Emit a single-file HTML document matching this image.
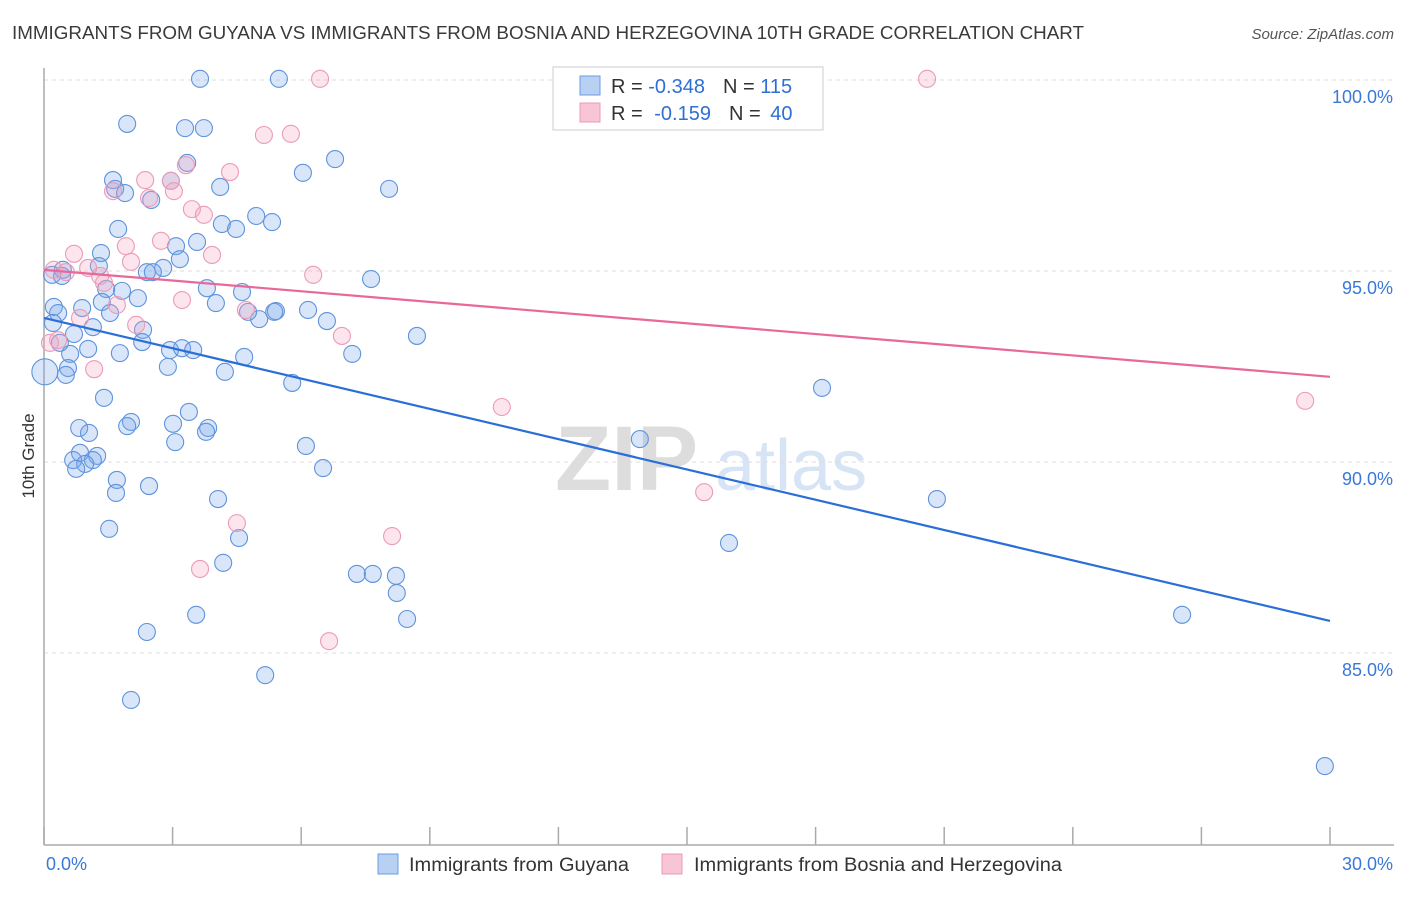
<!DOCTYPE html>
<html><head><meta charset="utf-8">
<style>
body{margin:0;background:#fff;font-family:"Liberation Sans",sans-serif;}
svg text{font-family:"Liberation Sans",sans-serif;}
</style></head>
<body>
<svg id="chart" width="1406" height="892" viewBox="0 0 1406 892" xmlns="http://www.w3.org/2000/svg">
<text x="12" y="39" font-size="18" fill="#3a3a3a" textLength="1072" lengthAdjust="spacingAndGlyphs">IMMIGRANTS FROM GUYANA VS IMMIGRANTS FROM BOSNIA AND HERZEGOVINA 10TH GRADE CORRELATION CHART</text>
<text x="1394" y="39" font-size="15" fill="#555" text-anchor="end" font-style="italic">Source: ZipAtlas.com</text>
<g><text x="555" y="490" font-size="92" fill="#ddd" font-family="Liberation Serif" font-weight="bold">ZIP</text><text x="715" y="490" font-size="72" fill="#d6e4f5">atlas</text></g>
<g id="grid"></g>
<g id="axes"></g>
<g id="points"></g>
<g id="lines"></g>
<text transform="translate(34,456) rotate(-90)" font-size="17" fill="#333" text-anchor="middle">10th Grade</text>
<g>
<rect x="553" y="67" width="270" height="63" fill="#fff" stroke="#ccc"/>
<rect x="580" y="76" width="20" height="19" fill="#b8d1f3" stroke="#6d9be0"/>
<rect x="580" y="103" width="20" height="19" fill="#f8c5d6" stroke="#ea9ab6"/>
<text x="611" y="93" font-size="20" fill="#333">R = <tspan fill="#2f6fd3">-0.348</tspan><tspan dx="18">N = </tspan><tspan fill="#2f6fd3">115</tspan></text>
<text x="611" y="120" font-size="20" fill="#333">R = <tspan dx="6" fill="#2f6fd3">-0.159</tspan><tspan dx="18">N = </tspan><tspan dx="4" fill="#2f6fd3">40</tspan></text>
</g>
<g>
<rect x="378" y="854" width="20" height="20" fill="#b8d1f3" stroke="#6d9be0"/>
<text x="409" y="871" font-size="19" fill="#333" textLength="220" lengthAdjust="spacingAndGlyphs">Immigrants from Guyana</text>
<rect x="662" y="854" width="20" height="20" fill="#f8c5d6" stroke="#ea9ab6"/>
<text x="694" y="871" font-size="19" fill="#333" textLength="368" lengthAdjust="spacingAndGlyphs">Immigrants from Bosnia and Herzegovina</text>
</g>
</svg>
<script>
const xTicks=[0,3,6,9,12,15,18,21,24,27,30];
const yTicks=[100,95,90,85];
const yTickLabels=["100.0%","95.0%","90.0%","85.0%"];
const xTickLabels=["0.0%","30.0%"];
const guyanaX=[3.64,5.48,1.94,3.29,3.73,3.34,6.79,6.04,1.61,2.96,1.66,1.89,2.50,4.11,8.05,4.95,5.32,1.73,4.15,4.48,3.08,3.57,1.33,3.17,2.78,2.40,2.54,1.28,0.44,0.19,0.42,7.63,3.80,4.62,1.45,1.82,2.19,1.35,4.01,0.23,0.89,1.54,0.33,5.41,5.37,6.16,5.02,4.76,6.60,0.21,1.14,2.31,0.70,8.70,2.29,0.37,1.03,2.94,3.22,3.48,1.77,0.61,7.19,4.67,2.89,4.22,0.56,0.51,0.02,5.79,18.15,1.40,3.38,2.03,1.94,0.82,3.01,1.05,3.83,3.78,3.06,6.11,13.90,0.84,1.24,0.68,1.14,0.96,0.75,6.51,1.70,2.45,1.68,4.06,20.83,1.52,4.55,15.98,4.18,7.30,7.67,8.21,8.23,8.47,3.55,2.40,26.55,5.16,2.03,29.88];
const guyanaY=[100.03,100.03,98.85,98.74,98.74,97.83,97.93,97.57,97.38,97.36,97.15,97.04,96.86,97.20,97.15,96.44,96.28,96.10,96.23,96.10,95.65,95.76,95.47,95.31,95.08,94.97,94.97,95.13,95.03,94.90,94.87,94.79,94.55,94.45,94.53,94.48,94.29,94.19,94.16,94.06,94.03,93.90,93.90,93.95,93.93,93.98,93.74,93.93,93.69,93.64,93.53,93.46,93.35,93.30,93.14,93.12,92.96,92.93,92.98,92.93,92.85,92.83,92.83,92.75,92.49,92.36,92.46,92.28,92.36,92.07,91.94,91.68,91.31,91.05,90.94,90.89,91.00,90.76,90.89,90.79,90.52,90.42,90.60,90.24,90.16,90.05,90.05,89.95,89.82,89.84,89.53,89.37,89.19,89.03,89.03,88.25,88.01,87.88,87.36,87.07,87.07,87.02,86.57,85.89,86.00,85.55,86.00,84.42,83.77,82.04];
const bosniaX=[6.44,20.60,5.13,5.76,3.31,2.36,2.96,2.45,1.61,3.03,4.34,3.45,3.73,2.73,1.91,0.70,2.03,3.92,1.03,0.23,0.51,1.31,1.40,6.28,3.22,1.70,4.71,0.84,2.15,6.95,0.14,1.17,4.50,10.68,8.12,3.64,6.65,15.40,29.42,0.33];
const bosniaY=[100.03,100.03,98.56,98.59,97.77,97.38,97.36,96.91,97.09,97.09,97.59,96.62,96.47,95.79,95.65,95.45,95.24,95.42,95.08,95.03,94.97,94.87,94.69,94.90,94.24,94.11,93.98,93.77,93.59,93.30,93.12,92.43,88.40,91.44,88.06,87.20,85.31,89.21,91.60,93.19];
const guyanaTrend=[93.77,85.84];
const bosniaTrend=[95.03,92.23];

const NS="http://www.w3.org/2000/svg";
const X0=44,X1=1330,YTOP=80,PX_PER_PCT=38.2;
function xs(v){return X0+(v/30)*(X1-X0);}
function ys(v){return YTOP+(100-v)*PX_PER_PCT;}
function mk(tag,attrs,parent){const e=document.createElementNS(NS,tag);for(const k in attrs)e.setAttribute(k,attrs[k]);parent.appendChild(e);return e;}
const grid=document.getElementById('grid'),axes=document.getElementById('axes'),pts=document.getElementById('points'),lines=document.getElementById('lines');
yTicks.forEach((t,i)=>{
  const l=mk('line',{x1:44,x2:1394,y1:ys(t),y2:ys(t),stroke:'#ddd','stroke-dasharray':'4,4'},grid);
  
  
  const tx=mk('text',{x:1393,y:ys(t)+23,'font-size':18,fill:'#3a78d8','text-anchor':'end'},axes);
  tx.textContent=yTickLabels[i];
  
  
});
const ya=mk('line',{x1:44,x2:44,y1:68,y2:845,stroke:'#aaa','stroke-width':1.5},axes);


const xa=mk('line',{x1:44,x2:1394,y1:845,y2:845,stroke:'#aaa','stroke-width':1.5},axes);


xTicks.forEach(t=>{
  const l=mk('line',{x1:xs(t),x2:xs(t),y1:827,y2:845,stroke:'#aaa','stroke-width':1.5},axes);
  
  
});
[[0,'start',46],[30,'end',1393]].forEach((a,i)=>{
  const tx=mk('text',{x:a[2],y:870,'font-size':18,fill:'#3a78d8','text-anchor':a[1]},axes);
  tx.textContent=xTickLabels[i];
  
  
});
guyanaX.forEach((x,i)=>{
  const c=mk('circle',{cx:xs(x),cy:ys(guyanaY[i]),r:(x<0.1?13:8.5),fill:'rgba(120,165,235,0.28)',stroke:'#5f93dc','stroke-width':1.1},pts);
  
  
});
bosniaX.forEach((x,i)=>{
  const c=mk('circle',{cx:xs(x),cy:ys(bosniaY[i]),r:8.5,fill:'rgba(245,160,190,0.28)',stroke:'#eb9bb8','stroke-width':1.1},pts);
  
  
});
const bl=mk('line',{x1:xs(0),y1:ys(guyanaTrend[0]),x2:xs(30),y2:ys(guyanaTrend[1]),stroke:'#2a6fd8','stroke-width':2.2},lines);


const pl=mk('line',{x1:xs(0),y1:ys(bosniaTrend[0]),x2:xs(30),y2:ys(bosniaTrend[1]),stroke:'#e8689a','stroke-width':2.2},lines);


</script>
</body></html>
